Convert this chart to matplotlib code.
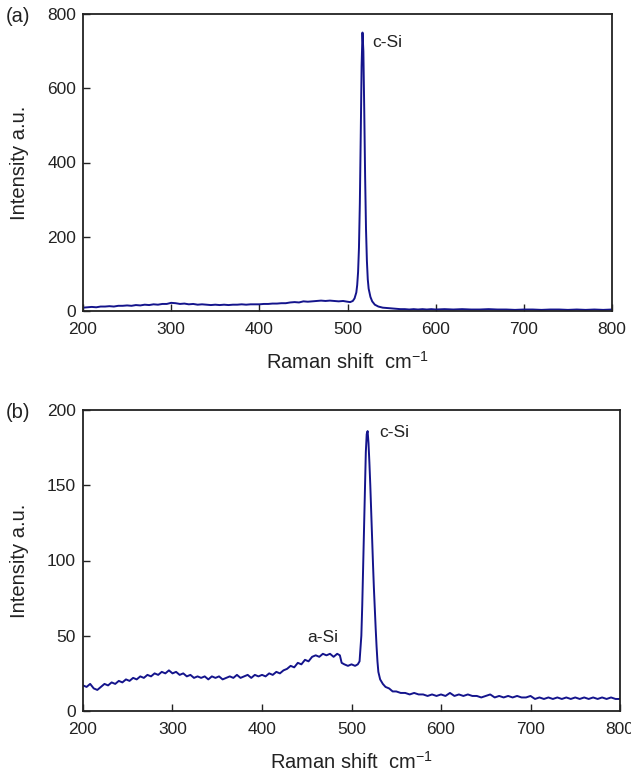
import matplotlib
matplotlib.use("Agg")
import matplotlib.pyplot as plt

# ---------------- data (a) ----------------
shift_a = [200, 205, 210, 215, 220, 225, 230, 235, 240, 245, 250, 255, 260, 265, 270, 275,
           280, 285, 290, 295, 300, 305, 310, 315, 320, 325, 330, 335, 340, 345, 350, 355,
           360, 365, 370, 375, 380, 385, 390, 395, 400, 405, 410, 415, 420, 425, 430, 435,
           440, 445, 450, 455, 460, 465, 470, 475, 480, 485, 490, 495, 500, 503, 506, 508,
           510, 511, 512, 513, 514, 515, 516, 517, 518, 519, 520, 521, 522, 523, 524, 526,
           528, 531, 535, 540, 545, 550, 555, 560, 565, 570, 575, 580, 585, 590, 595, 600,
           610, 620, 630, 640, 650, 660, 670, 680, 690, 700, 710, 720, 730, 740, 750, 760,
           770, 780, 790, 800]
int_a = [9, 10, 11, 10, 12, 12, 13, 12, 14, 14, 15, 14, 16, 15, 17, 16,
         18, 17, 19, 19, 22, 21, 19, 20, 18, 19, 17, 18, 17, 16, 17, 16,
         17, 16, 17, 17, 18, 17, 18, 18, 18, 19, 19, 20, 20, 21, 21, 23,
         24, 23, 26, 25, 26, 27, 28, 27, 28, 27, 26, 27, 25, 24, 27, 34,
         50, 70, 105, 170, 290, 470, 660, 750, 700, 540, 360, 220, 135, 85, 60, 38,
         26, 17, 12, 9, 8, 7, 6, 5, 5, 4, 5, 4, 5, 4, 5, 4,
         5, 4, 5, 4, 4, 5, 4, 4, 3, 4, 4, 3, 4, 4, 3, 4,
         3, 4, 3, 4]

# ---------------- data (b) ----------------
shift_b = [200, 204, 208, 212, 216, 220, 224, 228, 232, 236, 240, 244, 248, 252, 256, 260,
           264, 268, 272, 276, 280, 284, 288, 292, 296, 300, 304, 308, 312, 316, 320, 324,
           328, 332, 336, 340, 344, 348, 352, 356, 360, 364, 368, 372, 376, 380, 384, 388,
           392, 396, 400, 404, 408, 412, 416, 420, 424, 428, 432, 436, 440, 444, 448, 452,
           456, 460, 464, 468, 472, 476, 480, 484, 487, 489, 492, 496, 500, 504, 507, 509,
           511, 512, 513, 514, 515, 516, 517, 518, 519, 520, 521, 522, 523, 524, 525, 526,
           527, 528, 529, 530, 532, 535, 538, 542, 546, 550, 555, 560, 565, 570, 575, 580,
           585, 590, 595, 600, 605, 610, 615, 620, 625, 630, 635, 640, 645, 650, 655, 660,
           665, 670, 675, 680, 685, 690, 695, 700, 705, 710, 715, 720, 725, 730, 735, 740,
           745, 750, 755, 760, 765, 770, 775, 780, 785, 790, 795, 800]
int_b = [17, 16, 18, 15, 14, 16, 18, 17, 19, 18, 20, 19, 21, 20, 22, 21,
         23, 22, 24, 23, 25, 24, 26, 25, 27, 25, 26, 24, 25, 23, 24, 22,
         23, 22, 23, 21, 23, 22, 23, 21, 22, 23, 22, 24, 22, 23, 24, 22,
         24, 23, 24, 23, 25, 24, 26, 25, 27, 28, 30, 29, 32, 31, 34, 33,
         36, 37, 36, 38, 37, 38, 36, 38, 37, 32, 31, 30, 31, 30, 31, 33,
         50, 70, 95, 118, 145, 172, 184, 186, 178, 165, 150, 132, 115, 98, 82, 68,
         55, 43, 33, 26, 21, 18, 16, 15, 13, 13, 12, 12, 11, 12, 11, 11,
         10, 11, 10, 11, 10, 12, 10, 11, 10, 11, 10, 10, 9, 10, 11, 9,
         10, 9, 10, 9, 10, 9, 9, 10, 8, 9, 8, 9, 8, 9, 8, 9,
         8, 9, 8, 9, 8, 9, 8, 9, 8, 9, 8, 8]

xticks = [200, 300, 400, 500, 600, 700, 800]
yticks_a = [0, 200, 400, 600, 800]
yticks_b = [0, 50, 100, 150, 200]

plt.rcParams['font.family'] = ['Liberation Sans', 'DejaVu Sans']
plt.rcParams['mathtext.fontset'] = 'custom'
plt.rcParams['mathtext.rm'] = 'Liberation Sans'
plt.rcParams['mathtext.it'] = 'Liberation Sans:italic'
plt.rcParams['mathtext.bf'] = 'Liberation Sans:bold'
line_color = '#14148c'
ink = '#222222'

W, H = 631, 778
fig = plt.figure(figsize=(W / 100, H / 100), dpi=100)

def make_axes(l, r, t, b):
    return fig.add_axes([l / W, 1 - b / H, (r - l) / W, (b - t) / H])

ax1 = make_axes(83, 612, 14, 311)
ax2 = make_axes(83, 620, 410, 711)

def style(ax, yticks, ymax):
    ax.set_xlim(200, 800)
    ax.set_ylim(0, ymax)
    ax.set_xticks(xticks)
    ax.set_yticks(yticks)
    ax.tick_params(direction='in', length=5, width=1, labelsize=12.5, colors=ink)
    ax.tick_params(axis='x', pad=8)
    ax.tick_params(axis='y', pad=5)
    for s in ax.spines.values():
        s.set_linewidth(1.3)
        s.set_color(ink)
    ax.set_xlabel('Raman shift  cm$^{\\mathrm{-1}}$', fontsize=14.5, labelpad=10, color=ink)
    ax.set_ylabel('Intensity a.u.', fontsize=14.5, labelpad=13, color=ink)

ax1.plot(shift_a, int_a, color=line_color, lw=1.4)
style(ax1, yticks_a, 800)
ax1.text(545, 722, 'c-Si', fontsize=12.5, ha='center', va='center', color=ink)

ax2.plot(shift_b, int_b, color=line_color, lw=1.4)
style(ax2, yticks_b, 200)
ax2.text(548, 185, 'c-Si', fontsize=12.5, ha='center', va='center', color=ink)
ax2.text(468, 49, 'a-Si', fontsize=12.5, ha='center', va='center', color=ink)

fig.text(18 / W, 1 - 16 / H, '(a)', fontsize=14.5, ha='center', va='center', color=ink)
fig.text(18 / W, 1 - 412 / H, '(b)', fontsize=14.5, ha='center', va='center', color=ink)

fig.savefig('out.png', dpi=100)
